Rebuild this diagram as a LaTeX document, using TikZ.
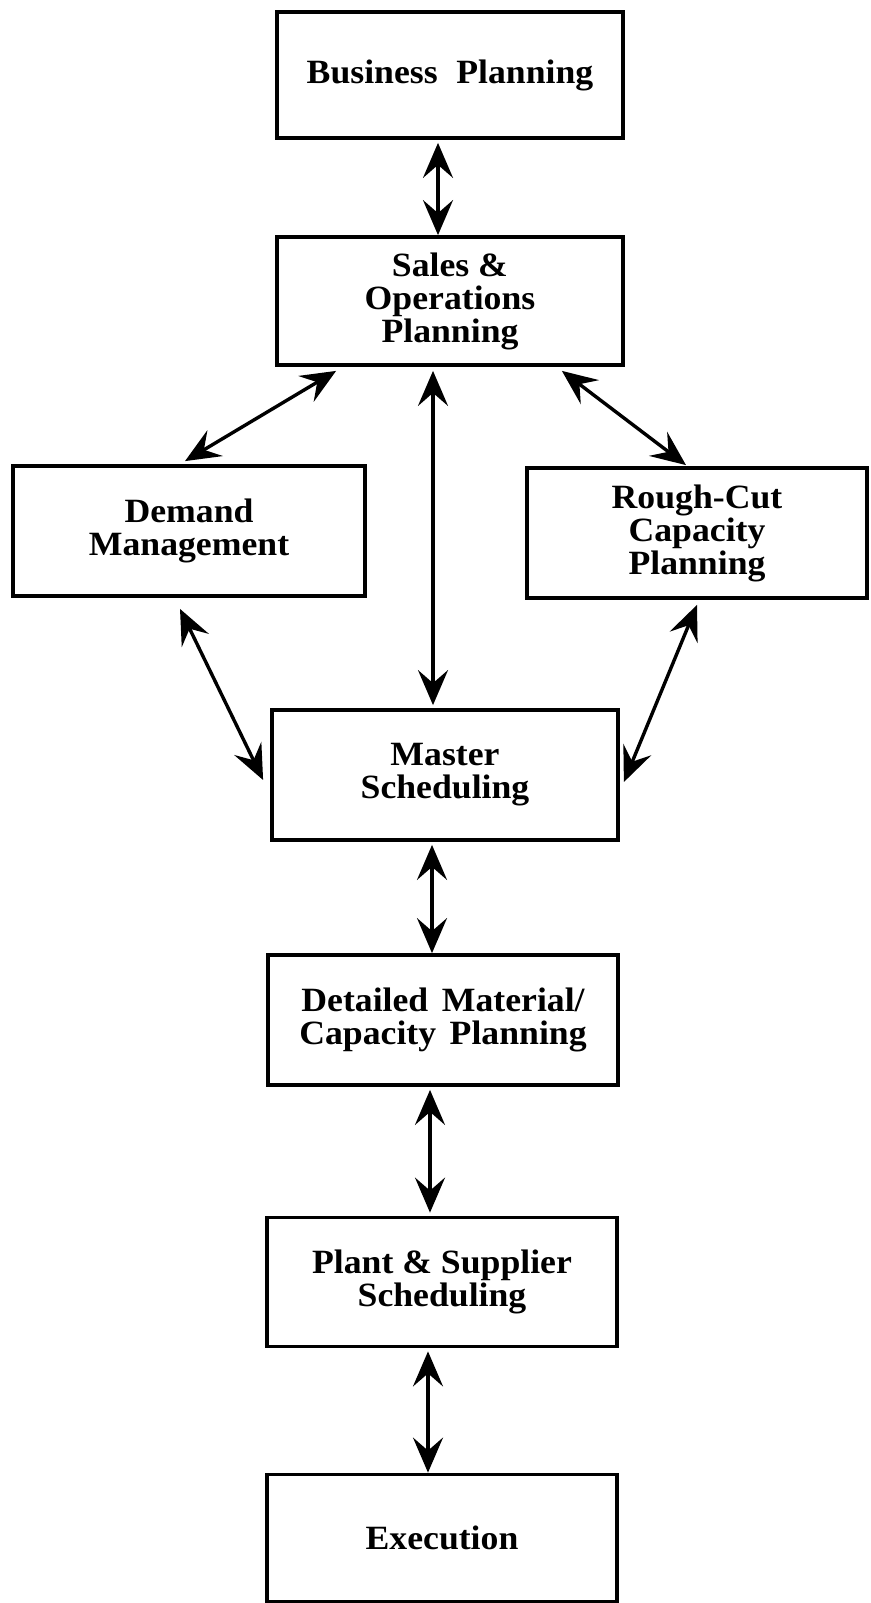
\documentclass[tikz,border=0pt]{standalone}
\usepackage{fontspec}
\setmainfont{Liberation Serif}[FakeStretch=1.05]
\usetikzlibrary{arrows.meta,calc}

\tikzset{
  stage/.style={draw, line width=3.8pt, align=center, inner sep=0pt,
    font=\bfseries\fontsize{34}{33}\selectfont},
  link/.style={line width=3.4pt,
    {Stealth[length=35pt,width=30pt,inset=13pt]}-{Stealth[length=35pt,width=30pt,inset=13pt]}}
}

\begin{document}
\begin{tikzpicture}[x=1pt,y=-1pt]
  \useasboundingbox (0,0) rectangle (870,1603);

  % planning stages
  \node[stage, minimum width=346pt, minimum height=126pt] (bp)  at (450,75)
    {Business\hspace{0.55em}Planning};
  \node[stage, minimum width=346pt, minimum height=128pt] (sop) at (450,301)
    {Sales \&\\Operations\\Planning};
  \node[stage, minimum width=352pt, minimum height=130pt] (dm)  at (189,531)
    {Demand\\Management};
  \node[stage, minimum width=340pt, minimum height=130pt] (rc)  at (697,533)
    {Rough-Cut\\Capacity\\Planning};
  \node[stage, minimum width=346pt, minimum height=130pt] (ms)  at (445,775)
    {Master\\Scheduling};
  \node[stage, minimum width=350pt, minimum height=130pt] (dcp) at (443,1020)
    {Detailed\hspace{0.4em}Material/\\Capacity\hspace{0.4em}Planning};
  \node[stage, minimum width=350pt, minimum height=129pt] (ps)  at (442,1282)
    {Plant \& Supplier\\Scheduling};
  \node[stage, minimum width=350pt, minimum height=127pt] (ex)  at (442,1538)
    {Execution};

  % two-way links between stages
  \draw[link] ([xshift=-12pt,yshift=-3pt]bp.south) -- ([xshift=-12pt]sop.north);
  \draw[link] ([xshift=-17pt,yshift=-4pt]sop.south)
           -- ([xshift=-17pt,yshift=3pt]sop.south |- ms.north);
  \draw[link] ([xshift=61pt,yshift=-4pt]sop.south west) -- ([xshift=-4pt,yshift=3pt]dm.north);
  \draw[link] ([xshift=-63pt,yshift=-4pt]sop.south east) -- ([xshift=-11pt,yshift=1pt]rc.north);
  \draw[link] ([xshift=-9pt,yshift=-11pt]dm.south) -- ([xshift=-7pt,yshift=-5pt]ms.west);
  \draw[link] ([yshift=-5pt]rc.south) -- ([xshift=4pt,yshift=-7pt]ms.east);
  \draw[link] ([xshift=-13pt,yshift=-3pt]ms.south) -- ([xshift=-11pt]dcp.north);
  \draw[link] ([xshift=-13pt,yshift=-3pt]dcp.south) -- ([xshift=-12pt,yshift=3pt]ps.north);
  \draw[link] ([xshift=-14pt,yshift=-3pt]ps.south) -- ([xshift=-14pt]ex.north);
\end{tikzpicture}
\end{document}
